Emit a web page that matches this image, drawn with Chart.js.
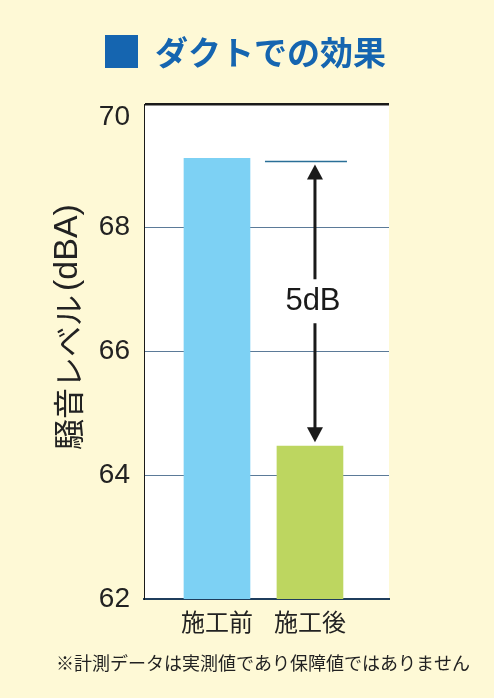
<!DOCTYPE html>
<html>
<head>
<meta charset="utf-8">
<script src="https://cdn.jsdelivr.net/npm/chart.js@4/dist/chart.umd.min.js"></script>
<style>
	body { margin: 0; background: #fef9d6; }
	#wrap { width: 494px; height: 698px; }
</style>
</head>
<body>
<div id="wrap"><canvas id="myChart" width="494" height="698"></canvas></div>
<script>
const categories = ["施工前", "施工後"];
const categoryPos = [1, 2];
const noiseLevels = [69.12, 64.47];
const barColors = ["#7dd1f4", "#bdd660"];
const yTicks = [62, 64, 66, 68, 70];
const refLevel = 69.07;
const diffLabel = "5dB";

const FONT_LATIN = "'Liberation Sans', 'Noto Sans CJK JP', sans-serif";
const FONT_JP = "'Noto Sans CJK JP', sans-serif";

// plot background + title/footnote/axis title
const decorations = {
	id: "decorations",
	beforeDraw(chart) {
		const { ctx, chartArea } = chart;
		ctx.save();
		ctx.fillStyle = "#fef9d6";
		ctx.fillRect(0, 0, chart.width, chart.height);
		ctx.fillStyle = "#ffffff";
		ctx.fillRect(chartArea.left, chartArea.top, chartArea.right - chartArea.left, chartArea.bottom - chartArea.top);

		// title
		ctx.fillStyle = "#1565b0";
		ctx.fillRect(105, 35, 33, 33);
		ctx.font = "bold 33px " + FONT_JP;
		ctx.textBaseline = "middle";
		ctx.textAlign = "left";
		ctx.fillText("ダクトでの効果", 155, 52);

		// y axis title, drawn in two runs so the brackets stay narrow
		ctx.fillStyle = "#222";
		ctx.translate(68, 450);
		ctx.rotate(-Math.PI / 2);
		ctx.textAlign = "left";
		ctx.font = "31px " + FONT_JP;
		ctx.fillText("騒音レベル", 0, 0);
		const w1 = ctx.measureText("騒音レベル").width;
		ctx.font = "34px 'Liberation Sans', sans-serif";
		ctx.fillText("(dBA)", w1 + 4, 0);
		ctx.restore();

		// footnote
		ctx.save();
		ctx.fillStyle = "#222";
		ctx.font = "18px " + FONT_JP;
		ctx.textAlign = "center";
		ctx.textBaseline = "middle";
		ctx.fillText("※計測データは実測値であり保障値ではありません", 263, 663);
		ctx.restore();
	},
	afterDatasetsDraw(chart) {
		const { ctx, scales } = chart;
		const x = scales.x, y = scales.y;
		const refY = y.getPixelForValue(refLevel);
		const lowY = y.getPixelForValue(noiseLevels[1]);
		const cx = x.getPixelForValue(categoryPos[1]);
		ctx.save();
		// reference line
		ctx.strokeStyle = "#2a6f97";
		ctx.lineWidth = 1.5;
		ctx.beginPath();
		ctx.moveTo(cx - 45, refY);
		ctx.lineTo(cx + 37, refY);
		ctx.stroke();

		// double arrow
		const ax = cx + 5;
		const top = refY + 3, bot = lowY - 4;
		const midY = (top + bot) / 2;
		ctx.strokeStyle = "#1a1a1a";
		ctx.fillStyle = "#1a1a1a";
		ctx.lineWidth = 3;
		ctx.beginPath();
		ctx.moveTo(ax, top + 12);
		ctx.lineTo(ax, midY - 24);
		ctx.moveTo(ax, midY + 20);
		ctx.lineTo(ax, bot - 12);
		ctx.stroke();
		ctx.beginPath();
		ctx.moveTo(ax, top);
		ctx.lineTo(ax - 8, top + 15);
		ctx.lineTo(ax + 8, top + 15);
		ctx.closePath();
		ctx.fill();
		ctx.beginPath();
		ctx.moveTo(ax, bot);
		ctx.lineTo(ax - 8, bot - 15);
		ctx.lineTo(ax + 8, bot - 15);
		ctx.closePath();
		ctx.fill();

		ctx.font = "31px " + FONT_LATIN;
		ctx.textAlign = "center";
		ctx.textBaseline = "middle";
		ctx.fillText(diffLabel, ax - 2, midY - 2);
		ctx.restore();
	},
};

const ctx = document.getElementById("myChart");

const myChart = new Chart(ctx, {
	type: "bar",
	plugins: [decorations],
	data: {
		datasets: [
			{
				data: categoryPos.map((p, i) => ({ x: p, y: noiseLevels[i] })),
				backgroundColor: barColors,
				barThickness: 66,
			},
		],
	},
	options: {
		responsive: false,
		animation: false,
		layout: {
			padding: { left: 0, top: 104, right: 105, bottom: 0 },
		},
		plugins: {
			legend: { display: false },
			tooltip: { enabled: false },
		},
		scales: {
			x: {
				type: "linear",
				offset: false,
				min: 0.215,
				max: 2.85,
				afterFit(scale) {
					scale.height = 99;
				},
				afterBuildTicks(scale) {
					scale.ticks = categoryPos.map((v) => ({ value: v }));
				},
				grid: { display: false, drawTicks: false, offset: false },
				border: { display: true, color: "#1f3d5c", width: 2 },
				ticks: {
					padding: 8,
					color: "#222",
					font: { family: FONT_JP, size: 24 },
					callback: (v) => categories[categoryPos.indexOf(v)] || "",
				},
			},
			y: {
				min: 62,
				max: 70,
				afterFit(scale) {
					scale.width = 144;
				},
				afterBuildTicks(scale) {
					scale.ticks = yTicks.map((v) => ({ value: v }));
				},
				grid: {
					drawTicks: false,
					color: (c) => (c.tick.value === 70 ? "#1a1a1a" : c.tick.value === 62 ? "rgba(0,0,0,0)" : "#5b7a98"),
					lineWidth: (c) => (c.tick.value === 70 ? 2.5 : 1),
				},
				border: { display: true, color: "#1a1a1a", width: 1 },
				ticks: {
					padding: 14,
					color: "#222",
					// top label sits a little below its line in the original
					callback: (v) => (v === 70 ? ["", "70"] : String(v)),
					font: (c) => ({ family: FONT_LATIN, size: 28, lineHeight: c.tick && c.tick.value === 70 ? 0.93 : 1.2 }),
				},
			},
		},
	},
});
</script>
</body>
</html>
